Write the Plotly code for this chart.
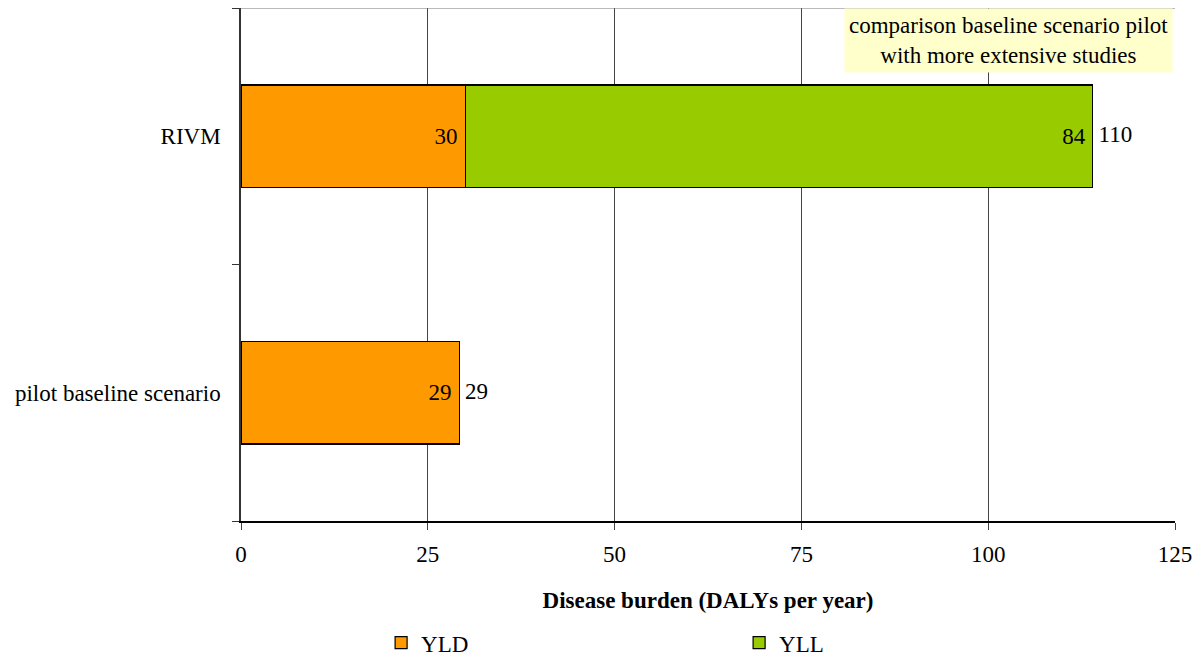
import math
import plotly.graph_objects as go

categories = ["pilot baseline scenario", "RIVM"]
yld = [29.2, 30.0]
yll = [0.0, 84.0]
series_names = ["YLD", "YLL"]
x_ticks = [0, 25, 50, 75, 100, 125]
colors = ["#FF9900", "#99CC00"]
note_text = "comparison baseline scenario pilot<br>with more extensive studies"
x_title = "<b>Disease burden (DALYs per year)</b>"

NB = "\u00a0"
THIN = "\u2009"


def sig2(v):
    if v == 0:
        return ""
    d = -int(math.floor(math.log10(abs(v)))) + 1
    r = round(v, d)
    return str(int(r)) if d <= 0 or r == int(r) else str(r)


totals = [a + b for a, b in zip(yld, yll)]
FONT = "Liberation Serif, Times New Roman, serif"
FS = 23

fig = go.Figure()
for name, vals, col in zip(series_names, [yld, yll], colors):
    fig.add_trace(go.Bar(
        y=categories, x=vals, name=name, orientation="h",
        marker=dict(color=col, line=dict(color="black", width=1.2)),
        text=[(sig2(v) + THIN) if v else "" for v in vals], textposition="inside",
        insidetextanchor="end", textangle=0,
        textfont=dict(family=FONT, size=FS, color="black"),
        width=0.4, hoverinfo="x+y",
    ))

fig.add_trace(go.Scatter(
    y=categories, x=totals, mode="text",
    text=[NB + sig2(v) for v in totals], textposition="middle right",
    textfont=dict(family=FONT, size=FS, color="black"),
    showlegend=False, hoverinfo="skip", cliponaxis=False,
))

# page has an 8px body margin: figure is 1194x649 placed at (8, 8)
fig.update_layout(
    barmode="stack",
    width=1194, height=649,
    margin=dict(l=233, r=27, t=0, b=136, autoexpand=False),
    plot_bgcolor="white", paper_bgcolor="white",
    font=dict(family=FONT, size=FS, color="black"),
    uniformtext=dict(mode=False),
    xaxis=dict(
        range=[0, 125], tickvals=x_ticks, ticks="outside", ticklen=7,
        tickcolor="#444", showgrid=True, gridcolor="#444", gridwidth=1,
        showline=True, linecolor="black", linewidth=1.5,
        zeroline=False, ticklabelstandoff=5, automargin=False,
        title=dict(text=x_title, font=dict(family=FONT, size=FS), standoff=26),
    ),
    yaxis=dict(
        categoryorder="array", categoryarray=categories,
        ticks="outside", ticklen=7, tickcolor="#333", tickson="boundaries",
        showline=True, linecolor="#333", linewidth=1.5, showgrid=False,
        ticklabelstandoff=14, automargin=False,
    ),
    legend=dict(
        orientation="h", x=0.150, xanchor="left", y=-0.237, yanchor="middle",
        entrywidth=313, entrywidthmode="pixels",
        font=dict(family=FONT, size=FS), itemclick=False,
        traceorder="normal",
    ),
    showlegend=True,
)

fig.add_shape(type="line", xref="paper", yref="paper", x0=0, x1=1, y0=1, y1=1,
              line=dict(color="#777", width=1))

fig.add_annotation(
    xref="paper", yref="paper", x=0.998, y=1.0, xanchor="right", yanchor="top",
    text=note_text, showarrow=False, align="center",
    bgcolor="#FFFFCC", borderpad=4,
    font=dict(family=FONT, size=FS, color="black"),
)

fig.write_html("out.html")
